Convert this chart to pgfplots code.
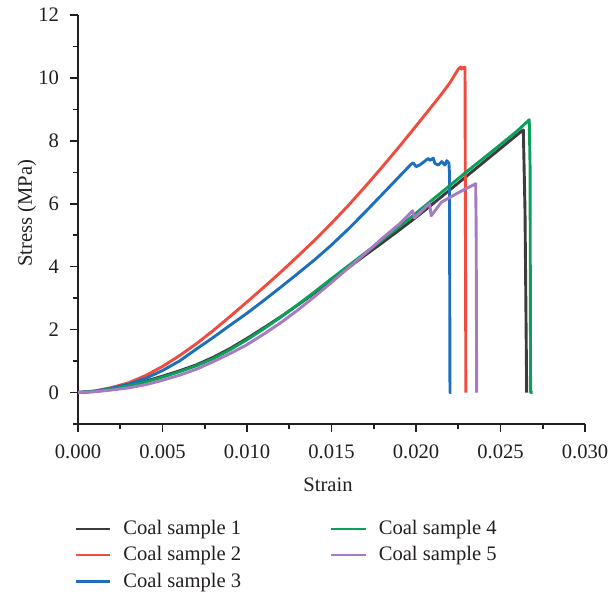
\documentclass[border=0pt]{standalone}
\usepackage{fontspec}
\setmainfont{Liberation Serif}
\usepackage{pgfplots}
\pgfplotsset{compat=1.18}
\definecolor{cA}{HTML}{3C3C3C}
\definecolor{cB}{HTML}{F04B3C}
\definecolor{cC}{HTML}{1E6EBE}
\definecolor{cD}{HTML}{0BA05A}
\definecolor{cE}{HTML}{A57BC3}
\definecolor{txt}{HTML}{231F20}
\begin{document}
\fontsize{10.3}{12.4}\selectfont
\begin{tikzpicture}
\begin{axis}[
  at={(0,0)}, anchor=south west,
  scale only axis, width=253.5pt, height=204.5pt,
  xmin=0, xmax=0.03, ymin=-1, ymax=12,
  scaled x ticks=false, scaled y ticks=false,
  axis lines=left,
  axis line style={-, line width=0.8pt, txt},
  xtick={0,0.005,0.01,0.015,0.02,0.025,0.03},
  xticklabels={0.000,0.005,0.010,0.015,0.020,0.025,0.030},
  minor xtick={0.0025,0.0075,0.0125,0.0175,0.0225,0.0275},
  ytick={0,2,4,6,8,10,12},
  yticklabels={0,2,4,6,8,10,12},
  minor ytick={-1,1,3,5,7,9,11},
  tick align=outside,
  major tick length=4.2pt, minor tick length=2.5pt,
  tick style={line width=0.8pt, txt},
  xticklabel style={yshift=-2.5pt, text=txt},
  yticklabel style={xshift=-1.7pt, text=txt},
  xlabel={Strain}, ylabel={Stress (MPa)},
  xlabel style={at={(axis description cs:0.493,-0.149)}, anchor=center, text=txt},
  ylabel style={at={(axis description cs:-0.1006,0.515)}, anchor=center, text=txt},
  legend columns=2, legend cell align=left,
  legend style={at={(axis description cs:-0.007,-0.229)}, anchor=north west,
    draw=none, fill=none, inner sep=0pt, text=txt,
    nodes={inner ysep=1pt}, row sep=2.5pt,
    /tikz/every odd column/.append style={column sep=4pt},
    /tikz/every even column/.append style={column sep=42.5pt}},
  every axis plot/.append style={line width=1.45pt, line join=round},
]
% Coal sample 1
\addplot[cA, forget plot] coordinates {
(0,0) (0.001,0.04) (0.002,0.12) (0.003,0.23) (0.004,0.36) (0.005,0.52)
(0.006,0.69) (0.007,0.88) (0.008,1.12) (0.009,1.40) (0.010,1.72)
(0.011,2.06) (0.012,2.41) (0.013,2.78) (0.014,3.17) (0.015,3.57)
(0.016,3.97) (0.017,4.37) (0.018,4.76) (0.019,5.16) (0.020,5.57)
(0.021,6.00) (0.022,6.44) (0.023,6.88) (0.024,7.32) (0.025,7.76)
(0.026,8.20) (0.02635,8.35) (0.02640,7.08) (0.02645,5.76) (0.02655,0)
};
% Coal sample 2
\addplot[cB, forget plot] coordinates {
(0,0) (0.001,0.05) (0.002,0.16) (0.003,0.31) (0.004,0.54) (0.005,0.83)
(0.006,1.17) (0.007,1.55) (0.008,1.97) (0.009,2.42) (0.010,2.88)
(0.011,3.35) (0.012,3.83) (0.013,4.33) (0.014,4.84) (0.015,5.38)
(0.016,5.95) (0.017,6.55) (0.018,7.17) (0.019,7.81) (0.020,8.47)
(0.021,9.14) (0.0215,9.48) (0.022,9.84) (0.0225,10.28) (0.02265,10.35)
(0.0227,10.28) (0.02285,10.35) (0.0229,10.33) (0.02295,0)
};
% Coal sample 3
\addplot[cC, forget plot] coordinates {
(0,0) (0.001,0.045) (0.002,0.14) (0.003,0.27) (0.004,0.45) (0.005,0.70)
(0.006,1.00) (0.007,1.38) (0.008,1.75) (0.009,2.14) (0.010,2.52)
(0.011,2.93) (0.012,3.35) (0.013,3.78) (0.014,4.22) (0.015,4.69)
(0.016,5.20) (0.017,5.74) (0.018,6.30) (0.019,6.86) (0.0197,7.25)
(0.01984,7.30) (0.0200,7.18) (0.02024,7.24) (0.02073,7.44) (0.02083,7.38)
(0.02102,7.45) (0.02112,7.28) (0.02132,7.23) (0.02152,7.34) (0.02172,7.23)
(0.02182,7.37) (0.02195,7.29) (0.02198,6.96) (0.02201,0) (0.0221,0)
};
% Coal sample 4
\addplot[cD, forget plot] coordinates {
(0,0) (0.001,0.035) (0.002,0.11) (0.003,0.21) (0.004,0.34) (0.005,0.49)
(0.006,0.66) (0.007,0.85) (0.008,1.08) (0.009,1.36) (0.010,1.68)
(0.011,2.03) (0.012,2.40) (0.013,2.79) (0.014,3.20) (0.015,3.62)
(0.016,4.03) (0.017,4.44) (0.018,4.85) (0.019,5.27) (0.020,5.70)
(0.021,6.14) (0.022,6.58) (0.023,7.02) (0.024,7.45) (0.025,7.88)
(0.026,8.32) (0.0267,8.67) (0.02675,7.17) (0.02678,0) (0.0269,0)
};
% Coal sample 5
\addplot[cE, forget plot] coordinates {
(0,0) (0.001,0.025) (0.002,0.08) (0.003,0.15) (0.004,0.25) (0.005,0.39)
(0.006,0.55) (0.007,0.74) (0.008,0.98) (0.009,1.24) (0.010,1.52)
(0.011,1.86) (0.012,2.22) (0.013,2.62) (0.014,3.05) (0.015,3.50)
(0.016,3.96) (0.017,4.42) (0.018,4.90) (0.019,5.35) (0.0198,5.78)
(0.01992,5.55) (0.0208,6.01) (0.0209,5.62) (0.0215,6.05) (0.0226,6.38)
(0.0234,6.60) (0.02353,6.64) (0.02356,5.27) (0.02359,0)
};
\addlegendimage{cA, line width=1.2pt}\addlegendentry{Coal sample 1}
\addlegendimage{cD, line width=1.2pt}\addlegendentry{Coal sample 4}
\addlegendimage{cB, line width=1.2pt}\addlegendentry{Coal sample 2}
\addlegendimage{cE, line width=1.2pt}\addlegendentry{Coal sample 5}
\addlegendimage{cC, line width=1.2pt}\addlegendentry{Coal sample 3}
\end{axis}
\pgfresetboundingbox
\path[use as bounding box] (-39pt,-85.5pt) rectangle (265pt,212pt);
\end{tikzpicture}
\end{document}
